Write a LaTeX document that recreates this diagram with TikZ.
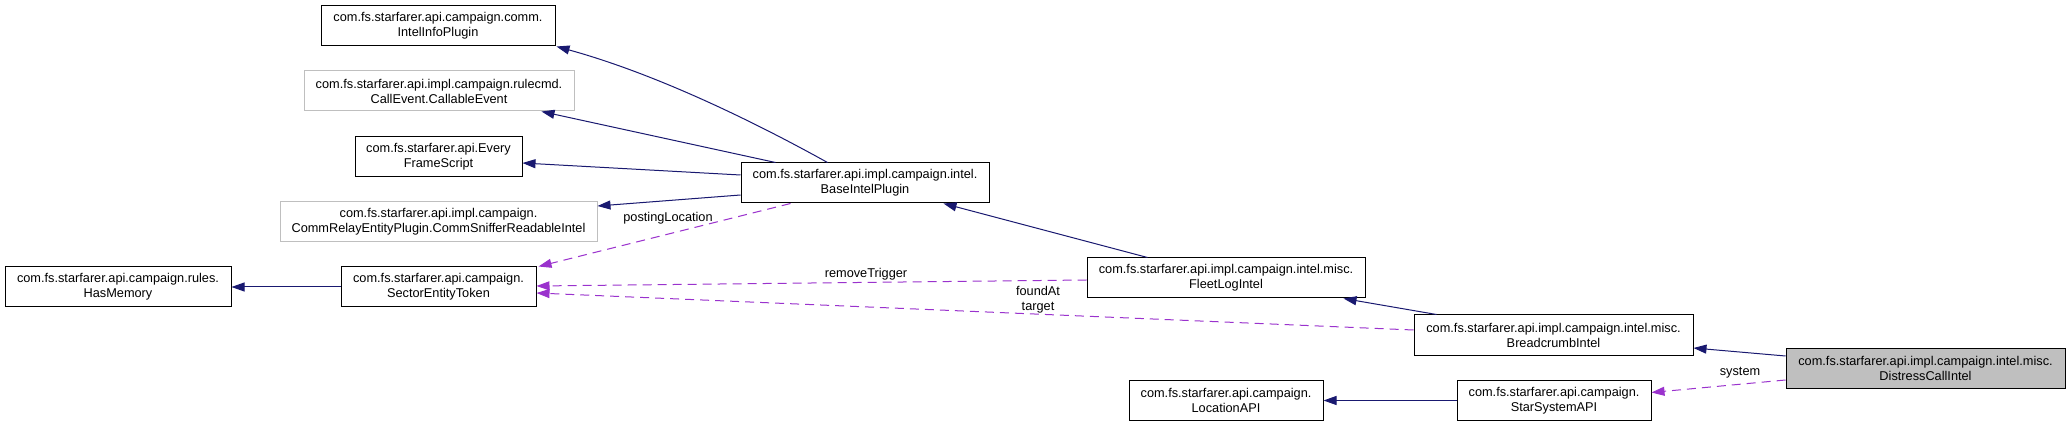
\documentclass[tikz,border=0pt]{standalone}
\usepackage{fontspec}
\setmainfont{Liberation Sans}
\usetikzlibrary{arrows.meta,calc,positioning}
\definecolor{navyedge}{HTML}{191970}
\definecolor{orchidedge}{HTML}{9A32CD}
\definecolor{greyline}{HTML}{BFBFBF}

\begin{document}
\begin{tikzpicture}[x=1pt,y=-1pt,
  font=\fontsize{12.75}{15}\selectfont,
  cls/.style={draw=black,line width=1pt,minimum height=40pt,inner sep=0pt,align=center},
  extcls/.style={cls,draw=greyline},
  inh/.style={navyedge,line width=1pt,-{Triangle[length=13pt,width=9pt]}},
  usage/.style={orchidedge,line width=1pt,dash pattern=on 9pt off 6pt,-{Triangle[length=13pt,width=9pt]}},
  lbl/.style={inner sep=0pt,align=center}]
 \useasboundingbox (0,0) rectangle (2071,427);
 % classes
 \node[cls,minimum width=234pt] (intelinfo) at (438,26) {com.fs.starfarer.api.campaign.comm.\\IntelInfoPlugin};
 \node[extcls,minimum width=270pt] (callable) at (439,91) {com.fs.starfarer.api.impl.campaign.rulecmd.\\CallEvent.CallableEvent};
 \node[cls,minimum width=167pt] (everyframe) at (438.5,157) {com.fs.starfarer.api.Every\\FrameScript};
 \node[extcls,minimum width=317pt] (commsniffer) at (438.5,222) {com.fs.starfarer.api.impl.campaign.\\CommRelayEntityPlugin.CommSnifferReadableIntel};
 \node[cls,minimum width=226pt] (hasmemory) at (118,287) {com.fs.starfarer.api.campaign.rules.\\HasMemory};
 \node[cls,minimum width=195pt] (sectortoken) at (438.5,287) {com.fs.starfarer.api.campaign.\\SectorEntityToken};
 \node[cls,minimum width=248pt] (baseintel) at (865,183) {com.fs.starfarer.api.impl.campaign.intel.\\BaseIntelPlugin};
 \node[cls,minimum width=278pt] (fleetlog) at (1226,278) {com.fs.starfarer.api.impl.campaign.intel.misc.\\FleetLogIntel};
 \node[cls,minimum width=279pt] (breadcrumb) at (1553.5,335) {com.fs.starfarer.api.impl.campaign.intel.misc.\\BreadcrumbIntel};
 \node[cls,fill=greyline,minimum width=279pt,minimum height=39pt] (distress) at (1925.5,368.5) {com.fs.starfarer.api.impl.campaign.intel.misc.\\DistressCallIntel};
 \node[cls,minimum width=194pt] (locationapi) at (1226,400.5) {com.fs.starfarer.api.campaign.\\LocationAPI};
 \node[cls,minimum width=194pt] (starsystem) at (1554,400.5) {com.fs.starfarer.api.campaign.\\StarSystemAPI};
 % inheritance
 \draw[inh] ($(baseintel.north west)+(87,0)$) .. controls (760,125) and (660,75) .. ($(intelinfo.south east)+(1,0)$);
 \draw[inh] ($(baseintel.north west)+(35,0)$) -- ($(callable.south east)+(-33,0)$);
 \draw[inh] ($(baseintel.west)+(0,-8)$) -- ($(everyframe.east)+(0,6)$);
 \draw[inh] ($(baseintel.west)+(0,12)$) -- ($(commsniffer.east)+(0,-16)$);
 \draw[inh] (sectortoken.west) -- (hasmemory.east);
 \draw[inh] ($(fleetlog.north west)+(61,0)$) -- ($(baseintel.south east)+(-46,0)$);
 \draw[inh] ($(breadcrumb.north west)+(23,0)$) -- ($(fleetlog.south east)+(-22,0)$);
 \draw[inh] ($(distress.west)+(0,-12.5)$) -- ($(breadcrumb.east)+(0,13)$);
 \draw[inh] (starsystem.west) -- (locationapi.east);
 % usage
 \draw[usage] ($(baseintel.south west)+(50,0)$) -- ($(sectortoken.north east)+(2,0)$);
 \node[lbl] (lblposting) at (668,218) {postingLocation};
 \draw[usage] ($(fleetlog.west)+(0,2)$) -- ($(sectortoken.east)+(0,-1)$);
 \node[lbl] (lblremove) at (866,274) {removeTrigger};
 \draw[usage] ($(breadcrumb.west)+(0,-5)$) -- ($(sectortoken.east)+(0,6)$);
 \node[lbl] (lblfound) at (1038,300) {foundAt\\target};
 \draw[usage] ($(distress.west)+(0,11.5)$) -- ($(starsystem.east)+(0,-8)$);
 \node[lbl] (lblsystem) at (1740,373) {system};
\end{tikzpicture}
\end{document}
